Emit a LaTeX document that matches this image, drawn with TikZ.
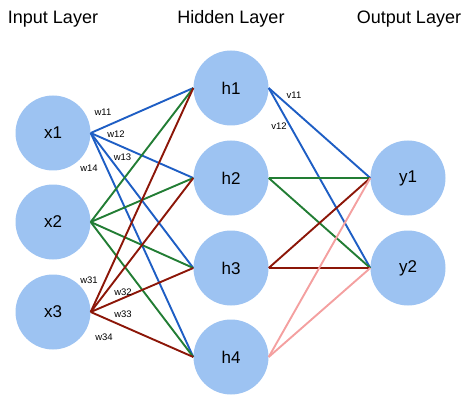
\documentclass[tikz,border=0pt]{standalone}
\usepackage{fontspec}
\setmainfont{Liberation Sans}
\definecolor{nodefill}{RGB}{157,195,242}
\definecolor{eblue}{RGB}{30,94,196}
\definecolor{egreen}{RGB}{34,125,52}
\definecolor{ered}{RGB}{140,22,8}
\definecolor{epink}{RGB}{244,160,160}
\begin{document}
\begin{tikzpicture}[x=1pt,y=-1pt,
  neuron/.style={circle,fill=nodefill,minimum size=75pt,inner sep=0pt,font=\fontsize{17}{17}\selectfont},
  title/.style={font=\fontsize{18}{18}\selectfont},
  wlab/.style={font=\fontsize{9.5}{9.5}\selectfont,inner sep=0pt},
  edge/.style={line width=1.9pt}]
\useasboundingbox (0,0) rectangle (474,409);
\node[title] (t1) at (53,19) {Input Layer};
\node[title] (t2) at (231,19) {Hidden Layer};
\node[title] (t3) at (409,19) {Output Layer};
\node[neuron] (x1) at (53,133) {x1};
\node[neuron] (x2) at (53,222) {x2};
\node[neuron] (x3) at (53,312) {x3};
\node[neuron] (h1) at (231,88) {h1};
\node[neuron] (h2) at (231,178) {h2};
\node[neuron] (h3) at (231,268) {h3};
\node[neuron] (h4) at (231,357) {h4};
\node[neuron] (y1) at (408,178) {y1};
\node[neuron] (y2) at (408,268) {y2};
\foreach \h in {h1,h2,h3,h4}{
  \draw[edge,eblue] (x1.east) -- (\h.west);
}
\foreach \h in {h1,h2,h3,h4}{
  \draw[edge,egreen] (x2.east) -- (\h.west);
}
\foreach \h in {h1,h2,h3,h4}{
  \draw[edge,ered] (x3.east) -- (\h.west);
}
\draw[edge,eblue] (h1.east) -- (y1.west);
\draw[edge,eblue] (h1.east) -- (y2.west);
\draw[edge,egreen] (h2.east) -- (y1.west);
\draw[edge,egreen] (h2.east) -- (y2.west);
\draw[edge,ered] (h3.east) -- (y1.west);
\draw[edge,ered] (h3.east) -- (y2.west);
\draw[edge,epink] (h4.east) -- (y1.west);
\draw[edge,epink] (h4.east) -- (y2.west);
\node[wlab] (w11) at (103,112) {w11};
\node[wlab] (w12) at (116,134) {w12};
\node[wlab] (w13) at (122.5,157) {w13};
\node[wlab] (w14) at (89,168) {w14};
\node[wlab] (w31) at (89,280) {w31};
\node[wlab] (w32) at (123,292) {w32};
\node[wlab] (w33) at (123,314) {w33};
\node[wlab] (w34) at (104,337) {w34};
\node[wlab] (v11) at (294,95) {v11};
\node[wlab] (v12) at (279,126) {v12};
\end{tikzpicture}
\end{document}
